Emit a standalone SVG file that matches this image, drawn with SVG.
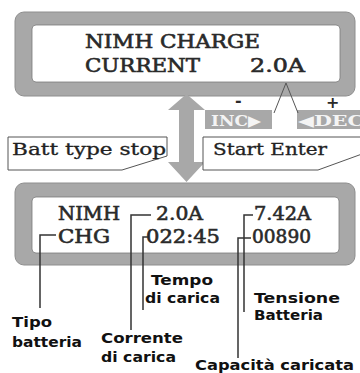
<svg xmlns="http://www.w3.org/2000/svg" width="360" height="373" viewBox="0 0 360 373">
<style>
.frame{fill:#a8a8a8;stroke:#8e8e8e;stroke-width:1}
.screen{fill:#ffffff;stroke:#7a7a7a;stroke-width:0.8}
.lcd{font-family:"DejaVu Serif","Liberation Serif",serif;font-size:18px;fill:#2a2a2a;stroke:#2a2a2a;stroke-width:0.6}
.tag{fill:#ffffff;stroke:#555;stroke-width:1}
.tagtxt{font-family:"DejaVu Serif","Liberation Serif",serif;font-size:16px;fill:#222;stroke:#222;stroke-width:0.3}
.btn{fill:#a8a8a8}
.btntxt{font-family:"DejaVu Serif","Liberation Serif",serif;font-size:15px;fill:#f4f4f4;font-weight:bold}
.sign{font-family:"DejaVu Sans","Liberation Sans",sans-serif;font-size:16px;fill:#2a2a2a;font-weight:bold}
.lbl{font-family:"DejaVu Sans","Liberation Sans",sans-serif;font-size:13.5px;font-weight:bold;fill:#111}
.lead{fill:none;stroke:#333;stroke-width:1.5}
.thin{fill:none;stroke:#555;stroke-width:1}
</style>
<g id="top-lcd">
<rect class="frame" x="15" y="12" width="340" height="84" rx="9"/>
<rect class="screen" x="32" y="25" width="308" height="57" rx="4"/>
<text class="lcd" x="85" y="48" textLength="175" lengthAdjust="spacingAndGlyphs">NIMH CHARGE</text>
<text class="lcd" x="85" y="72" textLength="115" lengthAdjust="spacingAndGlyphs">CURRENT</text>
<text class="lcd" x="250" y="72" textLength="55" lengthAdjust="spacingAndGlyphs">2.0A</text>
</g>
<g id="arrow">
<polygon fill="#a8a8a8" points="186.5,94 205,110 194,110 194,162 205,162 186.5,182 168,162 179,162 179,110 168,110"/>
</g>
<g id="inc">
<rect class="btn" x="205" y="110" width="67" height="19"/>
<text class="btntxt" x="211" y="126" textLength="50" lengthAdjust="spacingAndGlyphs">INC▶</text>
<text class="sign" x="235" y="106">-</text>
</g>
<g id="dec">
<rect class="btn" x="297" y="110" width="70" height="19"/>
<text class="btntxt" x="298" y="126" textLength="66" lengthAdjust="spacingAndGlyphs">◀DEC</text>
<text class="sign" x="326" y="108" font-weight="normal">+</text>
</g>
<g id="batt-type-stop">
<polygon class="tag" points="8,137 167,137 167,156 122,170 8,170"/>
<text class="tagtxt" x="12" y="155" textLength="154" lengthAdjust="spacingAndGlyphs">Batt type stop</text>
</g>
<g id="start-enter">
<polygon class="tag" points="203,137 362,137 362,154 318,170 203,170"/>
<text class="tagtxt" x="213" y="155" textLength="114" lengthAdjust="spacingAndGlyphs">Start Enter</text>
</g>
<g id="bottom-lcd">
<rect class="frame" x="15" y="183" width="340" height="82" rx="9"/>
<rect class="screen" x="32" y="197" width="307" height="56" rx="4"/>
<text class="lcd" x="58" y="220" textLength="62" lengthAdjust="spacingAndGlyphs">NIMH</text>
<text class="lcd" x="58" y="243" textLength="52" lengthAdjust="spacingAndGlyphs">CHG</text>
<text class="lcd" x="156" y="220" textLength="47" lengthAdjust="spacingAndGlyphs">2.0A</text>
<text class="lcd" x="146" y="243" textLength="74" lengthAdjust="spacingAndGlyphs">022:45</text>
<text class="lcd" x="254" y="220" textLength="57" lengthAdjust="spacingAndGlyphs">7.42A</text>
<text class="lcd" x="252" y="243" textLength="59" lengthAdjust="spacingAndGlyphs">00890</text>
</g>
<g id="connectors">
<path class="thin" d="M274,113 L286,83 L298,113"/>
<path class="lead" d="M56,235 H40 V308"/>
<path class="lead" d="M151,215 H131 V330"/>
<path class="lead" d="M148,237 H143 V310"/>
<path class="lead" d="M253,215 H244 V312"/>
<path class="lead" d="M251,238 H238 V358"/>
</g>
<g id="label-tipo">
<text class="lbl" x="12" y="327" textLength="40" lengthAdjust="spacingAndGlyphs">Tipo</text>
<text class="lbl" x="12" y="347" textLength="70" lengthAdjust="spacingAndGlyphs">batteria</text>
</g>
<g id="label-tempo">
<text class="lbl" x="151" y="285" textLength="62" lengthAdjust="spacingAndGlyphs">Tempo</text>
<text class="lbl" x="145" y="303" textLength="75" lengthAdjust="spacingAndGlyphs">di carica</text>
</g>
<g id="label-corrente">
<text class="lbl" x="101" y="343" textLength="82" lengthAdjust="spacingAndGlyphs">Corrente</text>
<text class="lbl" x="101" y="362" textLength="75" lengthAdjust="spacingAndGlyphs">di carica</text>
</g>
<g id="label-tensione">
<text class="lbl" x="254" y="303" textLength="86" lengthAdjust="spacingAndGlyphs">Tensione</text>
<text class="lbl" x="254" y="320" textLength="69" lengthAdjust="spacingAndGlyphs">Batteria</text>
</g>
<g id="label-capacita">
<text class="lbl" x="195" y="370" textLength="159" lengthAdjust="spacingAndGlyphs">Capacità caricata</text>
</g>
</svg>
